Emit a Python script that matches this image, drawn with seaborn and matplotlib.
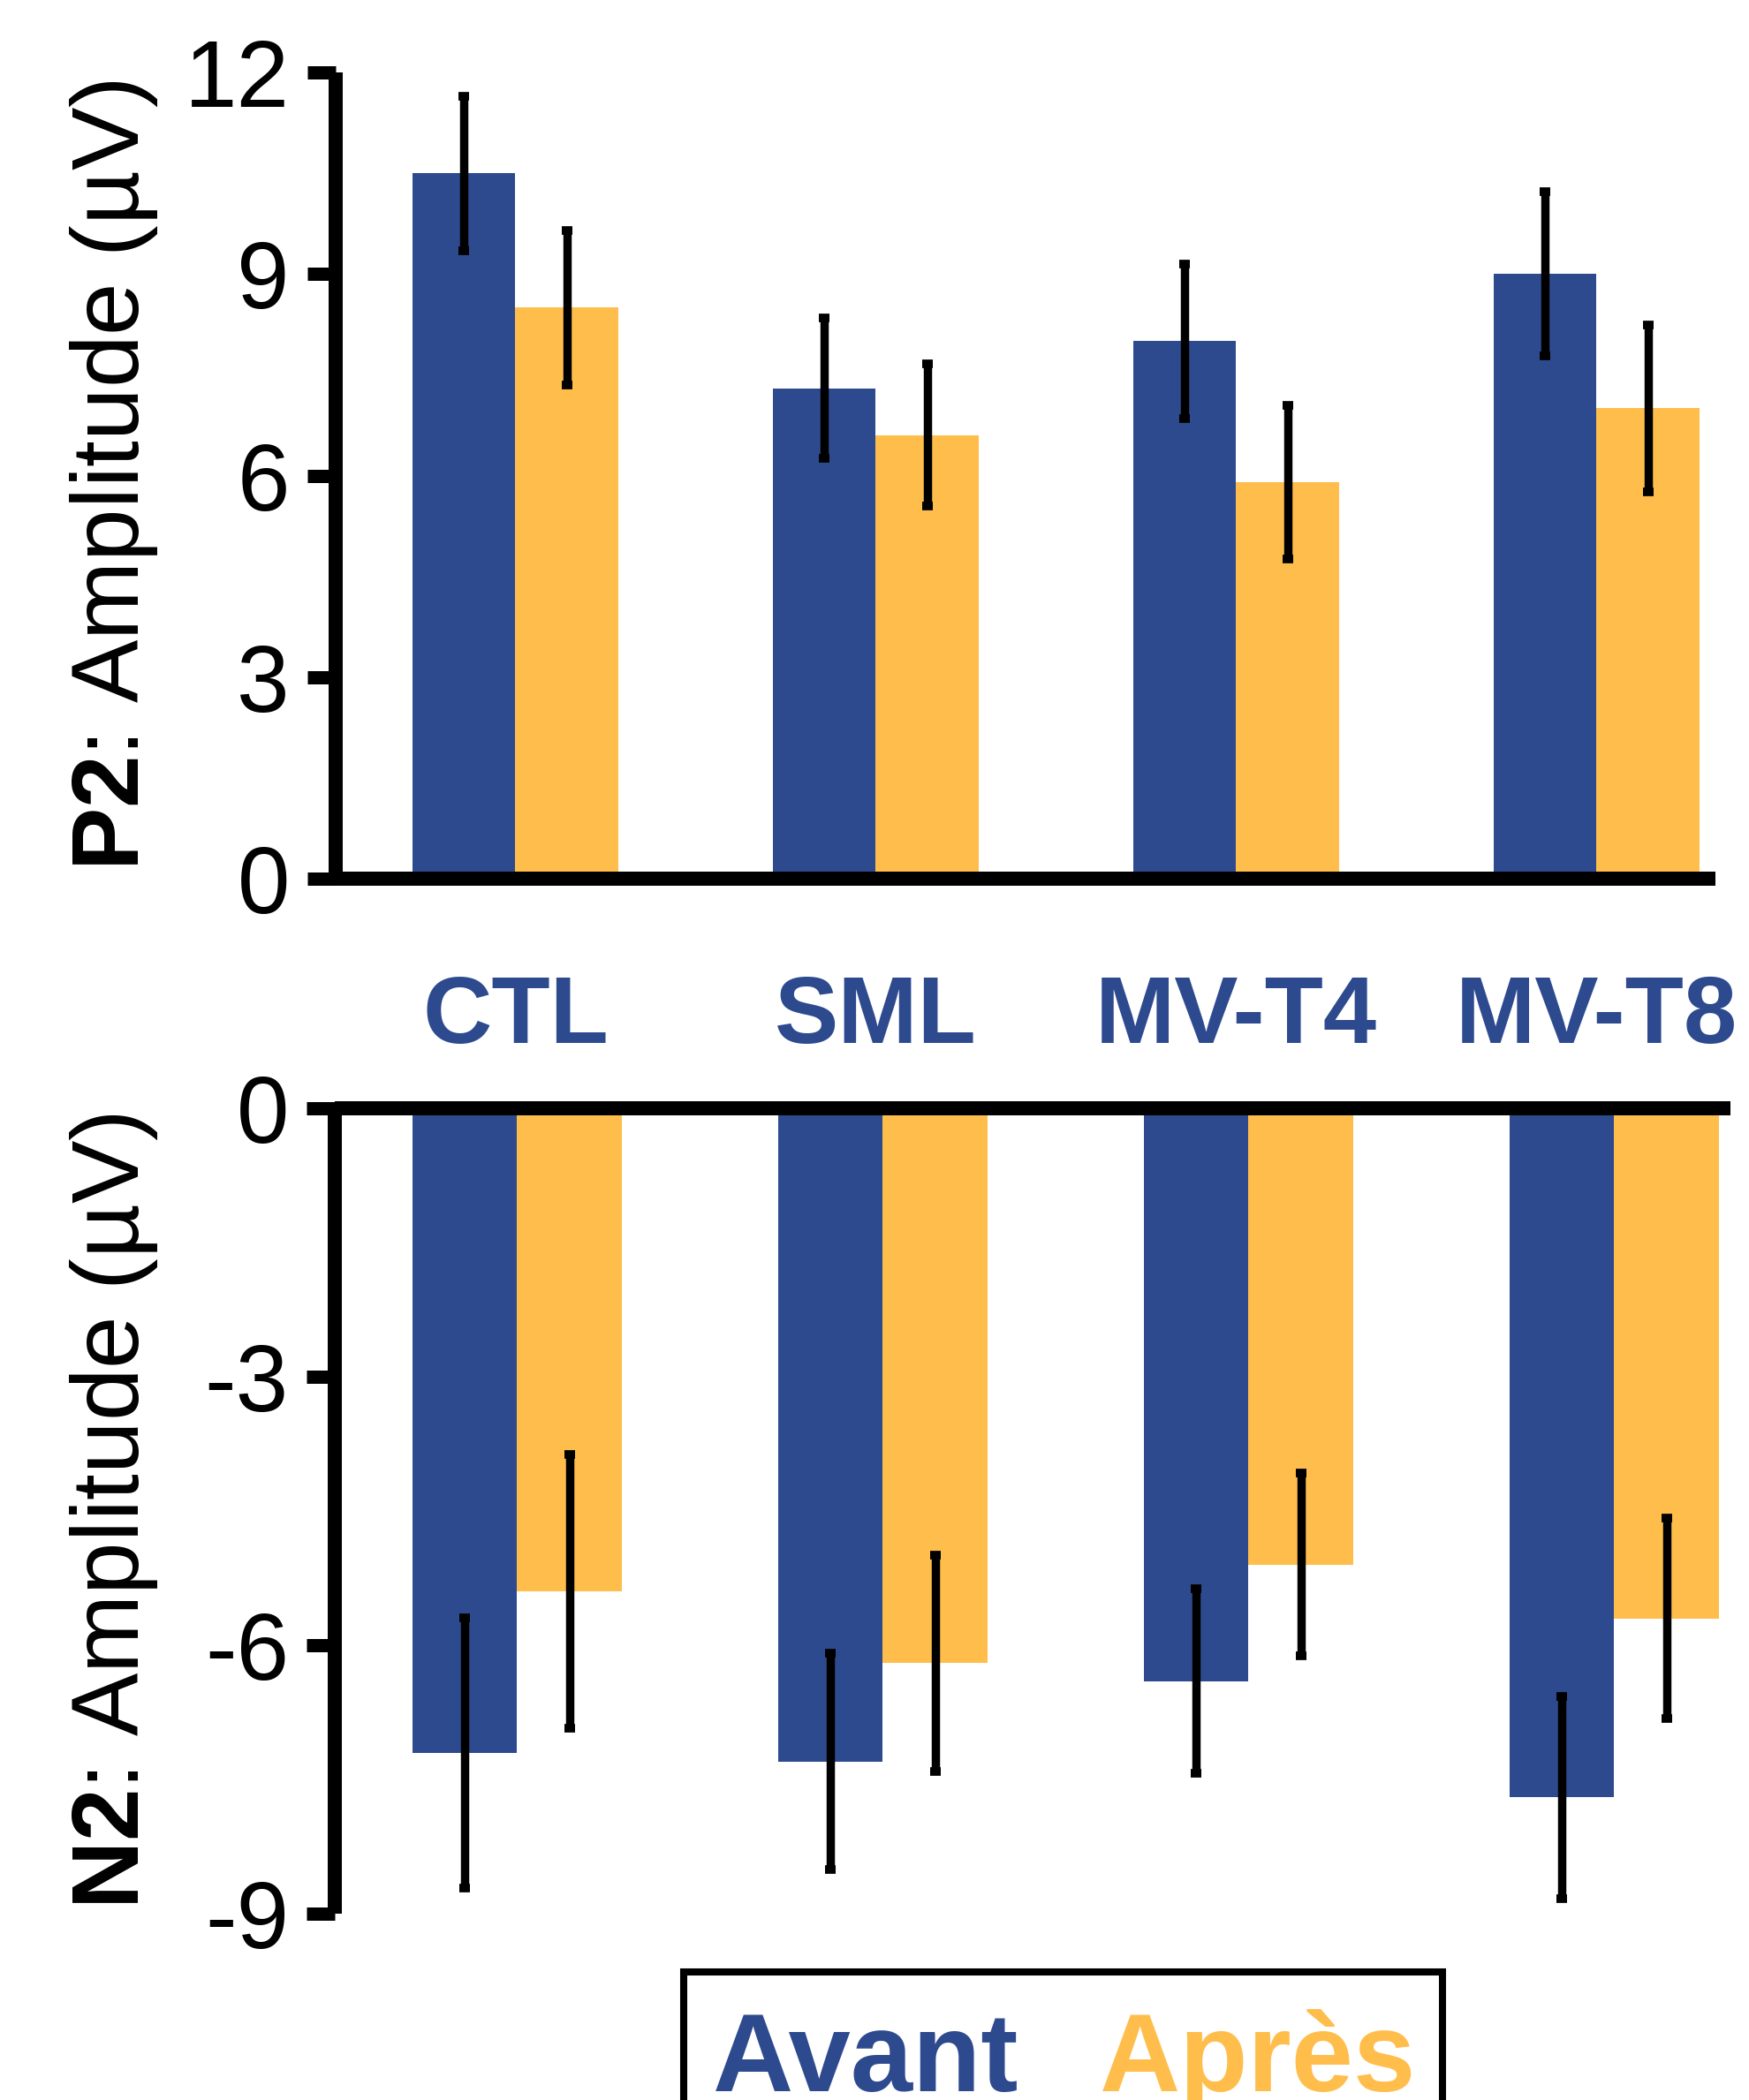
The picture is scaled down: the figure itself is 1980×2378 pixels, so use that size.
import numpy as np
import pandas as pd
import matplotlib
matplotlib.use('Agg')
import matplotlib.pyplot as plt
import seaborn as sns
from matplotlib.patches import Rectangle

# Data
groups = ['CTL', 'SML', 'MV-T4', 'MV-T8']
phases = ['Avant', 'Après']

p2_avant     = [10.5, 7.3, 8.0, 9.0]
p2_avant_err = [1.15, 1.05, 1.15, 1.22]
p2_apres     = [8.5, 6.6, 5.9, 7.0]
p2_apres_err = [1.15, 1.06, 1.14, 1.24]

n2_avant     = [-7.2, -7.3, -6.4, -7.7]
n2_avant_err = [1.51, 1.21, 1.03, 1.13]
n2_apres     = [-5.4, -6.2, -5.1, -5.7]
n2_apres_err = [1.53, 1.21, 1.02, 1.12]

p2_ticks = [0, 3, 6, 9, 12]
n2_ticks = [0, -3, -6, -9]

BLUE   = '#2E4A8F'
ORANGE = '#FFBE4B'

sns.set_style('ticks')
plt.rcParams.update({
    'font.family': ['Liberation Sans', 'DejaVu Sans'],
    'mathtext.fontset': 'custom',
    'mathtext.rm': 'Liberation Sans',
    'mathtext.bf': 'Liberation Sans:bold',
    'axes.unicode_minus': False,
    'text.color': 'black',
    'axes.labelcolor': 'black',
    'xtick.color': 'black',
    'ytick.color': 'black',
    'axes.edgecolor': 'black',
})

W, H = 1980, 2378
fig = plt.figure(figsize=(W / 100, H / 100), dpi=100)

ax_p2 = fig.add_axes([379.5 / W, 1 - 995 / H, 1562.6 / W, 913 / H])
ax_n2 = fig.add_axes([378.5 / W, 1 - 2167 / H, 1580.6 / W, 912 / H])


def draw_panel(ax, avant, apres, err_avant, err_apres):
    df = pd.DataFrame({
        'group': groups * 2,
        'phase': [phases[0]] * len(groups) + [phases[1]] * len(groups),
        'value': avant + apres,
    })
    sns.barplot(data=df, x='group', y='value', hue='phase',
                order=groups, hue_order=phases,
                palette=[BLUE, ORANGE], saturation=1, width=0.571, gap=0,
                errorbar=None, legend=False, linewidth=0, ax=ax)
    for cont, vals, err in zip(ax.containers[:2], [avant, apres], [err_avant, err_apres]):
        xs = [b.get_x() + b.get_width() / 2 for b in cont]
        ax.errorbar(xs, vals, yerr=err, fmt='none', ecolor='black',
                    elinewidth=6.8, capsize=4.3, capthick=7, zorder=3)
    ax.set_xlabel('')
    for side in ax.spines.values():
        side.set_linewidth(11.5)
        side.set_capstyle('butt')
        side.set_color('black')
    ax.tick_params(axis='y', length=23.4, width=10.8, pad=13.7,
                   labelsize=77, direction='out', color='black',
                   labelcolor='black')


# P2 (top)
draw_panel(ax_p2, p2_avant, p2_apres, p2_avant_err, p2_apres_err)
ax_p2.set_xlim(-0.5, 3.33)
ax_p2.set_ylim(0, 12)
ax_p2.set_yticks(p2_ticks)
ax_p2.spines['top'].set_visible(False)
ax_p2.spines['right'].set_visible(False)
ax_p2.tick_params(axis='x', length=0, pad=77.8)
ax_p2.set_xticks(range(len(groups)))
ax_p2.set_xticklabels(groups, fontsize=78, fontweight='bold', color=BLUE)
ax_p2.set_ylabel(r'$\mathbf{P2}$: Amplitude (µV)', fontsize=77, color='black')
ax_p2.yaxis.set_label_coords(-0.127, 0.5)

# N2 (bottom)
draw_panel(ax_n2, n2_avant, n2_apres, n2_avant_err, n2_apres_err)
ax_n2.set_xlim(-0.5, 3.318)
ax_n2.set_ylim(-9, 0)
ax_n2.set_yticks(n2_ticks)
ax_n2.set_xticks([])
ax_n2.spines['bottom'].set_visible(False)
ax_n2.spines['right'].set_visible(False)
ax_n2.set_ylabel(r'$\mathbf{N2}$: Amplitude (µV)', fontsize=77, color='black')
ax_n2.yaxis.set_label_coords(-0.125, 0.5)

# Legend box (cut by the bottom edge of the figure, as in the source)
fig.add_artist(Rectangle((774 / W, -0.05), (1633 - 774) / W, (1 - 2233 / H) + 0.05,
                         transform=fig.transFigure, fill=False,
                         edgecolor='black', linewidth=5.8, clip_on=False))
fig.text(807 / W, 1 - 2368 / H, phases[0], color=BLUE, fontsize=91,
         fontweight='bold', ha='left', va='baseline')
fig.text(1245 / W, 1 - 2368 / H, phases[1], color=ORANGE, fontsize=91,
         fontweight='bold', ha='left', va='baseline')

fig.savefig('out.png', dpi=100)
